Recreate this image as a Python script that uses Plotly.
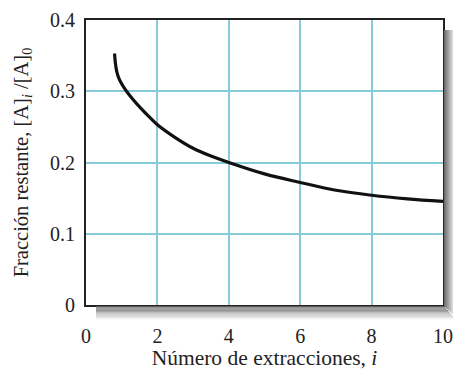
import plotly.graph_objects as go

# Data
extracciones = [0.80, 0.82, 0.86, 0.93, 1.04, 1.15, 1.3, 1.5, 1.75, 2.0, 2.5, 3.0, 3.5, 4.0, 5.0, 6.0, 7.0, 8.0, 9.0, 10.0]
fraccion = [0.353, 0.341, 0.328, 0.317, 0.307, 0.299, 0.2895, 0.278, 0.265, 0.253, 0.235, 0.220, 0.209, 0.200, 0.184, 0.172, 0.161, 0.154, 0.149, 0.1455]
x_ticks = [0, 2, 4, 6, 8, 10]
y_ticks = [0, 0.1, 0.2, 0.3, 0.4]
y_tick_text = ["0", "0.1", "0.2", "0.3", "0.4"]

W, H = 453, 370
ML, MR, MT, MB = 86, 10, 20, 65
PW, PH = W - ML - MR, H - MT - MB

FONT = "Liberation Serif, Times New Roman, serif"
GRID = "#86cbd8"

fig = go.Figure()
fig.add_trace(go.Scatter(
    x=extracciones, y=fraccion, mode="lines",
    line=dict(color="#111111", width=3.2, shape="spline", smoothing=1.0),
    showlegend=False, hoverinfo="skip",
))

# drop shadow strips (outside plot area)
shapes = []
n = 11
for k in range(n):
    g = int(110 + (245 - 110) * k / (n - 1))
    col = f"rgb({g},{g},{g})"
    shapes.append(dict(type="rect", xref="paper", yref="paper", layer="above",
                       x0=1 + (k + 1) / PW, x1=1 + (k + 2) / PW,
                       y0=-(k + 1) / PH, y1=1 - 10 / PH,
                       line=dict(width=0), fillcolor=col))
    shapes.append(dict(type="rect", xref="paper", yref="paper", layer="above",
                       x0=10 / PW, x1=1 + (k + 2) / PW,
                       y0=-(k + 2) / PH * 1.2, y1=-(k + 1) / PH * 1.2,
                       line=dict(width=0), fillcolor=col))
shapes = shapes[::-1]

fig.update_layout(
    width=W, height=H,
    margin=dict(l=ML, r=MR, t=MT, b=MB),
    paper_bgcolor="white", plot_bgcolor="white",
    font=dict(family=FONT, size=20, color="#222222"),
    shapes=shapes,
    xaxis=dict(
        range=[0, 10], tickvals=x_ticks, ticktext=[str(v) for v in x_ticks],
        showgrid=True, gridcolor=GRID, gridwidth=1.5,
        showline=True, linecolor="#222222", linewidth=2, mirror=True,
        ticks="outside", ticklen=12, tickcolor="rgba(0,0,0,0)",
        zeroline=False, automargin=False,
        title=dict(text="Número de extracciones, <i>i</i>", standoff=9,
                   font=dict(family=FONT, size=21.5)),
        tickfont=dict(family=FONT, size=20),
    ),
    yaxis=dict(
        range=[0, 0.4], tickvals=y_ticks, ticktext=y_tick_text,
        showgrid=True, gridcolor=GRID, gridwidth=1.5,
        showline=True, linecolor="#222222", linewidth=2, mirror=True,
        ticks="outside", ticklen=5, tickcolor="rgba(0,0,0,0)",
        zeroline=False, automargin=False,
        title=dict(text="Fracción restante, [A]<sub><i>i</i></sub> /[A]<sub>0</sub>",
                   standoff=16, font=dict(family=FONT, size=20.5)),
        tickfont=dict(family=FONT, size=20),
    ),
)

fig.write_html("out.html", config={"displayModeBar": False},
               post_script="document.body.style.margin='0px';")
